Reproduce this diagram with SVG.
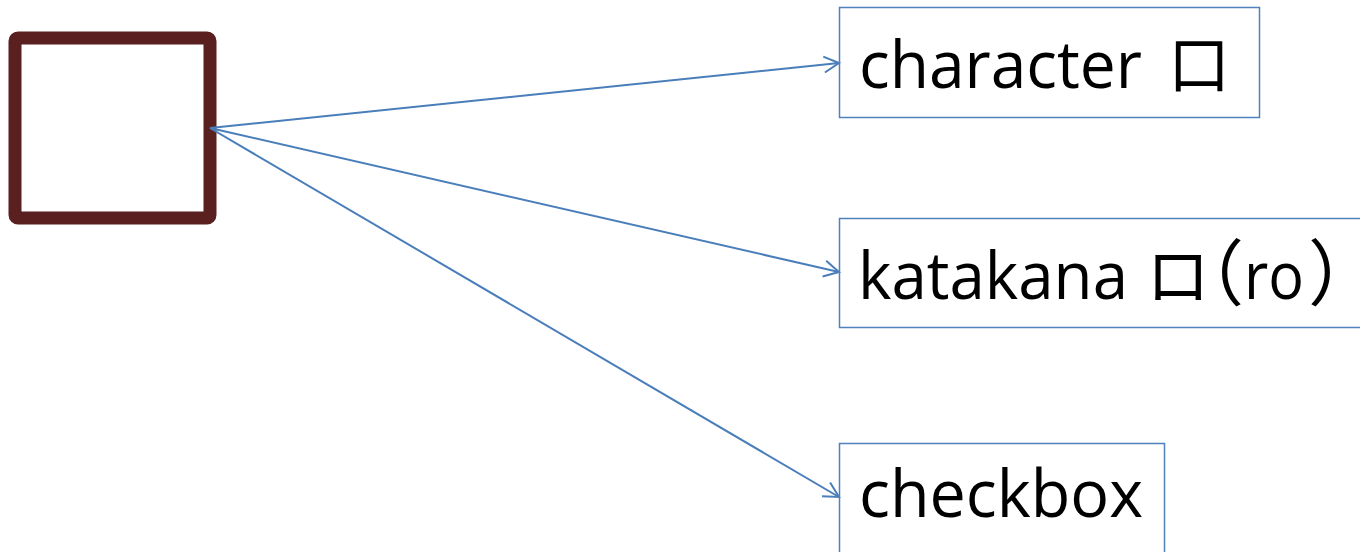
<svg xmlns="http://www.w3.org/2000/svg" width="1360" height="552" viewBox="0 0 1360 552">
  <defs>
    <marker id="arr" markerUnits="userSpaceOnUse" markerWidth="20" markerHeight="20" refX="17" refY="10" orient="auto" viewBox="0 0 20 20">
      <path d="M2,2 L17,10 L2,18" fill="none" stroke="#4a7ebb" stroke-width="2"/>
    </marker>
  </defs>
  <style>
    .lbl { fill: none; stroke: #4f81bd; stroke-width: 1.5; }
    .t { font-family: "Open Sans", "Noto Sans CJK JP", sans-serif; font-size: 66px; fill: #000; }
    .cjk { font-family: "Noto Sans CJK JP", sans-serif; }
    .par { font-family: "Noto Sans CJK JP", sans-serif; font-size: 72px; font-feature-settings: "halt"; }
    .conn { fill: none; stroke: #4a7ebb; stroke-width: 2; marker-end: url(#arr); }
  </style>
  <rect width="1360" height="552" fill="#ffffff"/>

  <g id="source">
    <rect x="15" y="38" width="195" height="180" rx="3" fill="#ffffff" stroke="#5a1f1f" stroke-width="13"/>
  </g>

  <g id="connectors">
    <line class="conn" x1="210" y1="128" x2="839" y2="63"/>
    <line class="conn" x1="210" y1="128" x2="839" y2="272"/>
    <line class="conn" x1="210" y1="128" x2="839" y2="497"/>
  </g>

  <g id="node-character">
    <rect class="lbl" x="839.5" y="7.5" width="420" height="110" fill="#ffffff"/>
    <text class="t" y="88"><tspan x="859" textLength="283" lengthAdjust="spacingAndGlyphs">character</tspan><tspan class="cjk" x="1168" font-size="62">口</tspan></text>
  </g>

  <g id="node-katakana">
    <rect class="lbl" x="839.5" y="218.5" width="530" height="109" fill="#ffffff"/>
    <text class="t" y="299"><tspan x="858" textLength="270" lengthAdjust="spacingAndGlyphs">katakana</tspan><tspan class="cjk" x="1146" font-size="64">ロ</tspan><tspan class="par" x="1208">（</tspan><tspan x="1244" textLength="60" lengthAdjust="spacingAndGlyphs">ro</tspan><tspan class="par" x="1308">）</tspan></text>
  </g>

  <g id="node-checkbox">
    <rect class="lbl" x="839.5" y="443.5" width="325" height="120" fill="#ffffff"/>
    <text class="t" y="517"><tspan x="859" textLength="284" lengthAdjust="spacingAndGlyphs">checkbox</tspan></text>
  </g>
</svg>
